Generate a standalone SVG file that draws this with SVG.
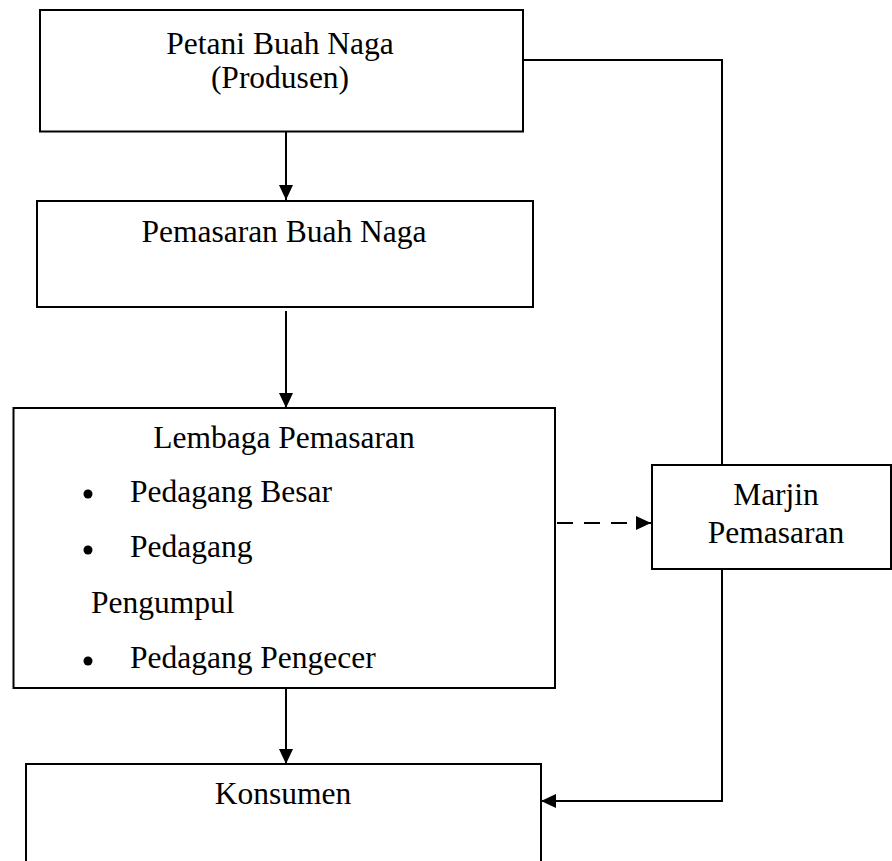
<svg xmlns="http://www.w3.org/2000/svg" width="892" height="861" viewBox="0 0 892 861">
<style>
.box{fill:#fff;stroke:#000;stroke-width:2}
.t{font-family:"Liberation Serif","Times New Roman",serif;font-size:31.5px;fill:#000}
.c{text-anchor:middle}
.ln{fill:none;stroke:#000;stroke-width:2}
.dash{stroke-dasharray:16,11}
</style>
<defs>
<marker id="arr" viewBox="0 0 15 14" refX="15" refY="7" markerWidth="15" markerHeight="14" orient="auto" markerUnits="userSpaceOnUse">
<path d="M0,0 L15,7 L0,14 z" fill="#000"/>
</marker>
</defs>
<g id="connectors">
<line class="ln" x1="286" y1="132" x2="286" y2="200" marker-end="url(#arr)"/>
<line class="ln" x1="286" y1="311" x2="286" y2="408" marker-end="url(#arr)"/>
<line class="ln" x1="286" y1="688" x2="286" y2="764" marker-end="url(#arr)"/>
<polyline class="ln" points="523,60 722,60 722,465"/>
<polyline class="ln" points="722,569 722,801 541,801" marker-end="url(#arr)"/>
<line class="ln dash" x1="557" y1="523" x2="651" y2="523" marker-end="url(#arr)"/>
</g>
<g id="petani">
<rect class="box" x="40" y="10" width="483" height="121.5"/>
<text class="t c" x="280" y="54">Petani Buah Naga</text>
<text class="t c" x="280" y="88">(Produsen)</text>
</g>
<g id="pemasaran">
<rect class="box" x="37" y="201" width="496" height="106"/>
<text class="t c" x="284" y="242">Pemasaran Buah Naga</text>
</g>
<g id="lembaga">
<rect class="box" x="13.5" y="408" width="541.5" height="280"/>
<text class="t c" x="284" y="448">Lembaga Pemasaran</text>
<circle cx="88" cy="494" r="4.5"/>
<text class="t" x="130" y="502">Pedagang Besar</text>
<circle cx="88" cy="550" r="4.5"/>
<text class="t" x="130" y="557">Pedagang</text>
<text class="t" x="91" y="613">Pengumpul</text>
<circle cx="88" cy="661" r="4.5"/>
<text class="t" x="130" y="668">Pedagang Pengecer</text>
</g>
<g id="marjin">
<rect class="box" x="652" y="465" width="239" height="104"/>
<text class="t c" x="776" y="505">Marjin</text>
<text class="t c" x="776" y="543">Pemasaran</text>
</g>
<g id="konsumen">
<rect class="box" x="26" y="764" width="515" height="110"/>
<text class="t c" x="283" y="804">Konsumen</text>
</g>
</svg>
